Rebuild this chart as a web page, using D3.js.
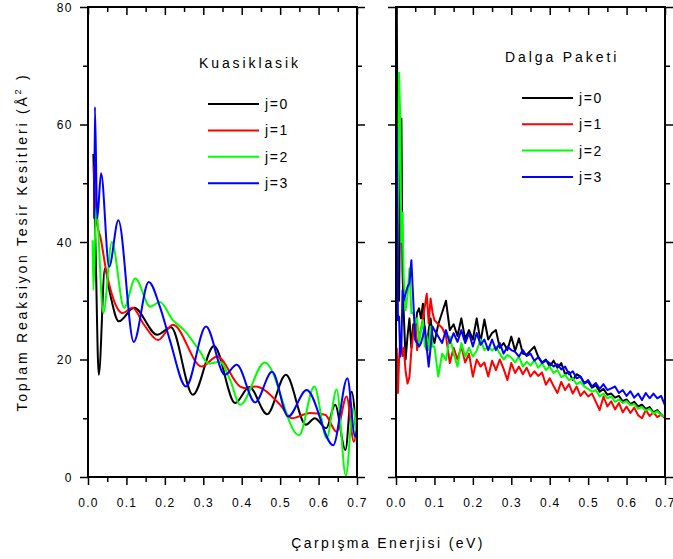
<!DOCTYPE html>
<html>
<head>
<meta charset="utf-8">
<script src="https://cdn.jsdelivr.net/npm/d3@7"></script>
<style>
body { margin: 0; background: #fff; }
text { font-family: "Liberation Sans", Arial, sans-serif; fill: #000; }
</style>
</head>
<body>
<div id="chart"></div>
<script>
'use strict';

// tick values and labels
var xTicks = [0, 0.1, 0.2, 0.3, 0.4, 0.5, 0.6, 0.7];
var xMinor = [0.05, 0.15, 0.25, 0.35, 0.45, 0.55, 0.65];
var yTicks = [0, 20, 40, 60, 80];
var yMinor = [10, 30, 50, 70];
var seriesNames = ['j=0', 'j=1', 'j=2', 'j=3'];
var panelTitles = ['Kuasiklasik', 'Dalga Paketi'];

// left panel (Kuasiklasik): energy / cross section per j
var kuE0 = [0.014, 0.02, 0.028, 0.044, 0.057, 0.08, 0.12, 0.18, 0.216, 0.273, 0.328, 0.383, 0.42, 0.466, 0.515, 0.567, 0.59, 0.62, 0.643, 0.67, 0.686, 0.70];
var kuS0 = [55, 38, 17.4, 35.5, 31.3, 26.5, 28.8, 24.2, 25.5, 14, 22.3, 12.6, 15.3, 10.7, 17.4, 8.9, 10, 8.3, 12.3, 4.6, 14.5, 5.5];
var kuE1 = [0.015, 0.021, 0.034, 0.047, 0.064, 0.09, 0.116, 0.145, 0.182, 0.221, 0.296, 0.336, 0.396, 0.413, 0.435, 0.5, 0.53, 0.578, 0.617, 0.647, 0.673, 0.692, 0.70];
var kuS1 = [53, 44.3, 40.3, 35.2, 30.7, 27.9, 28.8, 26, 23.3, 25.9, 18.8, 20.5, 15.4, 15.1, 15.4, 12.3, 10, 10.9, 10.6, 7.7, 13.7, 6, 9.2];
var kuE2 = [0.012, 0.014, 0.021, 0.04, 0.062, 0.094, 0.123, 0.162, 0.187, 0.221, 0.25, 0.292, 0.313, 0.343, 0.37, 0.396, 0.46, 0.549, 0.589, 0.621, 0.647, 0.671, 0.69, 0.70];
var kuS2 = [40.3, 31.8, 45.8, 27.9, 40, 28.8, 33.8, 29, 29.8, 26.7, 25, 21.3, 19.3, 19.6, 16.5, 12.3, 19.5, 7.1, 15.4, 6.6, 14.9, 0.2, 11.7, 6];
var kuE3 = [0.016, 0.018, 0.024, 0.034, 0.055, 0.079, 0.119, 0.158, 0.187, 0.213, 0.255, 0.307, 0.356, 0.387, 0.435, 0.479, 0.521, 0.569, 0.638, 0.675, 0.695, 0.70];
var kuS3 = [44, 63, 44, 51.7, 35.8, 43.7, 23, 33.2, 29, 23.3, 15.4, 25.6, 17.4, 19.1, 12.7, 17.9, 10.3, 14.8, 5.4, 16.8, 6.9, 8];

// right panel (Dalga Paketi): shared energy grid
var dpE = [0.002, 0.005, 0.008, 0.011, 0.014, 0.017, 0.02, 0.025, 0.03, 0.035, 0.04, 0.045, 0.05, 0.055, 0.06, 0.065, 0.07, 0.075, 0.08, 0.085, 0.09, 0.095, 0.1,
  0.11, 0.12, 0.13, 0.14, 0.15, 0.16, 0.17, 0.18, 0.19, 0.2,
  0.21, 0.22, 0.23, 0.24, 0.25, 0.26, 0.27, 0.28, 0.29, 0.3,
  0.31, 0.32, 0.33, 0.34, 0.35, 0.36, 0.37, 0.38, 0.39, 0.4,
  0.41, 0.42, 0.43, 0.44, 0.45, 0.46, 0.47, 0.48, 0.49, 0.5,
  0.51, 0.52, 0.53, 0.54, 0.55, 0.56, 0.57, 0.58, 0.59, 0.6,
  0.61, 0.62, 0.63, 0.64, 0.65, 0.66, 0.67, 0.68, 0.69, 0.7];
var dpS0 = [80, 40, 30, 50, 61, 35, 28, 20, 24, 27, 22, 26, 25, 28, 28.7, 27, 29.5, 24.5, 21.6, 25, 27, 24, 22.8,
  26, 28, 30, 25, 26, 24, 27, 23.5, 25, 23.4,
  27, 23, 26.8, 23.4, 24.5, 25, 22, 22.8, 21.6, 23.9,
  21.5, 23.6, 21, 20.8, 21.5, 22.2, 20.5, 19.5, 20, 18.8,
  19.8, 18.6, 19.4, 17.5, 17.9, 16.5, 17.5, 17.1, 16, 16.2,
  15.2, 15.6, 14.5, 15, 14, 14.2, 13.5, 13.8, 12.9, 13.2,
  12.4, 12.8, 12, 12.3, 11.6, 11.9, 11, 11.4, 10.6, 10.2];
var dpS1 = [22, 14.3, 20, 23.3, 22, 20.6, 22, 18, 15.9, 17, 21.6, 24.5, 26.7, 21.6, 24, 25, 27, 29, 31.2, 26.2, 30.4, 28, 26.7,
  26, 25.4, 24, 19.4, 22, 20, 22.2, 19.5, 21, 17.1,
  20, 18.8, 19.5, 17.1, 19.8, 18.2, 20, 18.4, 16.5, 19.4,
  17.7, 18.8, 17.5, 18.6, 17.1, 18, 17.2, 17.8, 15.7, 16.8,
  15.5, 14.3, 16.2, 14.8, 15.8, 14.2, 15.4, 13.8, 14.6, 13.7,
  14.2, 12.8, 11.4, 13.7, 12, 12.9, 11.5, 12.6, 11, 12,
  10.9, 11.8, 10.5, 10, 11.4, 10.4, 11, 10.2, 10.6, 10];
var dpS2 = [30, 45, 68.8, 61, 40, 45, 34, 28.4, 31, 35.5, 27.9, 28, 26.2, 27, 22.8, 25, 26.7, 22.2, 24, 21.6, 25.6, 22.2, 22.2,
  17.1, 21, 19.9, 23.9, 21, 18.8, 22.8, 20.5, 22, 20.5,
  21.5, 23.4, 21.6, 22.2, 21.5, 22.2, 21, 20, 20.8, 20.3,
  19.5, 20.5, 18.8, 19.6, 19, 19.9, 18.6, 19.4, 18.2, 18.8,
  17.7, 18.2, 17, 17.4, 16.5, 16.8, 15.8, 16.2, 15.4, 15,
  14.5, 14.8, 13.7, 14.2, 13.4, 13.7, 12.8, 13.2, 12.6, 12.9,
  12.2, 12.4, 11.6, 11.9, 11.3, 11.6, 10.8, 11.2, 10.5, 10.3];
var dpS3 = [59.6, 26.7, 27.3, 20.5, 22.2, 31.8, 30, 31.2, 32.4, 33, 36.9, 30, 23.3, 22.8, 22.2, 22.8, 24, 25.6, 22, 18.8, 22, 25.6, 25,
  23.9, 22.8, 25, 22.8, 24.5, 23, 25, 22.8, 24.5, 22.2,
  24.5, 22.5, 23.4, 21.6, 23.4, 21.6, 22.8, 21, 22.2, 21.6,
  21.3, 20.5, 21.6, 20.6, 21, 19.8, 20.4, 19.4, 19.8, 19.4,
  18.8, 19.2, 18.3, 18.8, 17.5, 18, 16.8, 17.1, 15.9, 16.5,
  15.4, 16, 15, 15.8, 14.8, 15.1, 15.4, 14.3, 14.8, 13.8,
  14.6, 13.5, 14.2, 13.1, 14.3, 13.4, 14.2, 13.4, 13.8, 12.2];

var chart = {};
chart.w = 673;
chart.h = 559;
chart.top = 7;
chart.bottom = 477;
chart.colours = ['#000000', '#ff0000', '#00ff00', '#0000ff'];
chart.panels = [
  {left: 88, right: 357, smooth: true,
   series: [[kuE0, kuS0], [kuE1, kuS1], [kuE2, kuS2], [kuE3, kuS3]],
   title: {x: 199, y: 68}, legend: {x: 208, y: 104, dy: 26.4}},
  {left: 396, right: 665, smooth: false,
   series: [[dpE, dpS0], [dpE, dpS1], [dpE, dpS2], [dpE, dpS3]],
   title: {x: 505, y: 62}, legend: {x: 522, y: 98, dy: 26.3}}
];

chart.svg = d3.select('#chart').append('svg')
  .attr('width', chart.w)
  .attr('height', chart.h);

chart.y = d3.scaleLinear().domain([0, 80]).range([chart.bottom, chart.top]);

chart.drawPanel = function(p, i) {
  var svg = chart.svg;
  var x = d3.scaleLinear().domain([0, 0.7]).range([p.left, p.right]);
  var y = chart.y;
  var g = svg.append('g').attr('class', 'panel-' + i);

  // clip so spikes stay inside the frame
  svg.append('clipPath').attr('id', 'clip' + i)
    .append('rect')
    .attr('x', p.left).attr('y', chart.top)
    .attr('width', p.right - p.left).attr('height', chart.bottom - chart.top);

  var line = d3.line()
    .x(function(d) { return x(d[0]); })
    .y(function(d) { return y(d[1]); })
    .curve(p.smooth ? d3.curveMonotoneX : d3.curveLinear);

  p.series.forEach(function(s, k) {
    var pts = s[0].map(function(e, j) { return [e, s[1][j]]; });
    g.append('path')
      .datum(pts)
      .attr('clip-path', 'url(#clip' + i + ')')
      .attr('d', line)
      .style('fill', 'none')
      .style('stroke', chart.colours[k])
      .style('stroke-width', 2)
      .style('stroke-linejoin', 'round');
  });

  // axes: ticks only, frame drawn separately
  function styleAxis(a) {
    a.select('.domain').remove();
    a.selectAll('.tick line').style('stroke', '#000').style('stroke-width', 1.5);
  }

  g.append('g').attr('transform', 'translate(0,' + chart.bottom + ')')
    .call(d3.axisBottom(x).tickValues(xTicks).tickSize(8).tickFormat(''))
    .call(styleAxis);
  g.append('g').attr('transform', 'translate(0,' + chart.bottom + ')')
    .call(d3.axisBottom(x).tickValues(xMinor).tickSize(5).tickFormat(''))
    .call(styleAxis);
  g.append('g').attr('transform', 'translate(0,' + chart.top + ')')
    .call(d3.axisTop(x).tickValues(xTicks).tickSize(-8).tickFormat(''))
    .call(styleAxis);
  g.append('g').attr('transform', 'translate(0,' + chart.top + ')')
    .call(d3.axisTop(x).tickValues(xMinor).tickSize(-5).tickFormat(''))
    .call(styleAxis);
  g.append('g').attr('transform', 'translate(' + p.left + ',0)')
    .call(d3.axisLeft(y).tickValues(yTicks).tickSize(8).tickFormat(''))
    .call(styleAxis);
  g.append('g').attr('transform', 'translate(' + p.left + ',0)')
    .call(d3.axisLeft(y).tickValues(yMinor).tickSize(5).tickFormat(''))
    .call(styleAxis);
  g.append('g').attr('transform', 'translate(' + p.right + ',0)')
    .call(d3.axisRight(y).tickValues(yTicks).tickSize(8).tickFormat(''))
    .call(styleAxis);
  g.append('g').attr('transform', 'translate(' + p.right + ',0)')
    .call(d3.axisRight(y).tickValues(yMinor).tickSize(5).tickFormat(''))
    .call(styleAxis);

  g.append('rect')
    .attr('x', p.left).attr('y', chart.top)
    .attr('width', p.right - p.left).attr('height', chart.bottom - chart.top)
    .style('fill', 'none').style('stroke', '#000').style('stroke-width', 2);

  // x tick labels
  g.selectAll('.xlab').data(xTicks).enter().append('text')
    .attr('class', 'xlab')
    .attr('x', function(d) { return x(d) + 0.5; })
    .attr('y', chart.bottom + 30)
    .attr('text-anchor', 'middle')
    .style('font-size', '12px')
    .style('letter-spacing', '1.2px')
    .text(d3.format('.1f'));

  if (i === 0) {
    g.selectAll('.ylab').data(yTicks).enter().append('text')
      .attr('class', 'ylab')
      .attr('x', p.left - 15)
      .attr('y', function(d) { return y(d) + 4.5; })
      .attr('text-anchor', 'end')
      .style('font-size', '12px')
      .style('letter-spacing', '1.5px')
      .text(function(d) { return d; });
  }

  // legend
  g.append('text')
    .attr('x', p.title.x).attr('y', p.title.y)
    .style('font-size', '14px')
    .style('letter-spacing', '2.9px')
    .text(panelTitles[i]);

  seriesNames.forEach(function(name, k) {
    var ly = p.legend.y + k * p.legend.dy;
    g.append('line')
      .attr('x1', p.legend.x).attr('x2', p.legend.x + 51)
      .attr('y1', ly).attr('y2', ly)
      .style('stroke', chart.colours[k]).style('stroke-width', 2);
    g.append('text')
      .attr('x', p.legend.x + 57).attr('y', ly + 5)
      .style('font-size', '14px')
      .style('letter-spacing', '1.6px')
      .text(name);
  });
};

chart.run = function() {
  chart.panels.forEach(chart.drawPanel);

  var yt = chart.svg.append('text')
    .attr('transform', 'translate(27,' + ((chart.top + chart.bottom) / 2) + ') rotate(-90)')
    .attr('text-anchor', 'middle')
    .style('font-size', '14px')
    .style('letter-spacing', '2.8px');
  yt.append('tspan').text('Toplam Reaksiyon Tesir Kesitleri (Å');
  yt.append('tspan').attr('dy', -6).style('font-size', '9px').text('2');
  yt.append('tspan').attr('dy', 6).text(' )');

  chart.svg.append('text')
    .attr('x', 388).attr('y', 548)
    .attr('text-anchor', 'middle')
    .style('font-size', '14px')
    .style('letter-spacing', '2.4px')
    .text('Çarpışma Enerjisi (eV)');
};

chart.run();
</script>
</body>
</html>
